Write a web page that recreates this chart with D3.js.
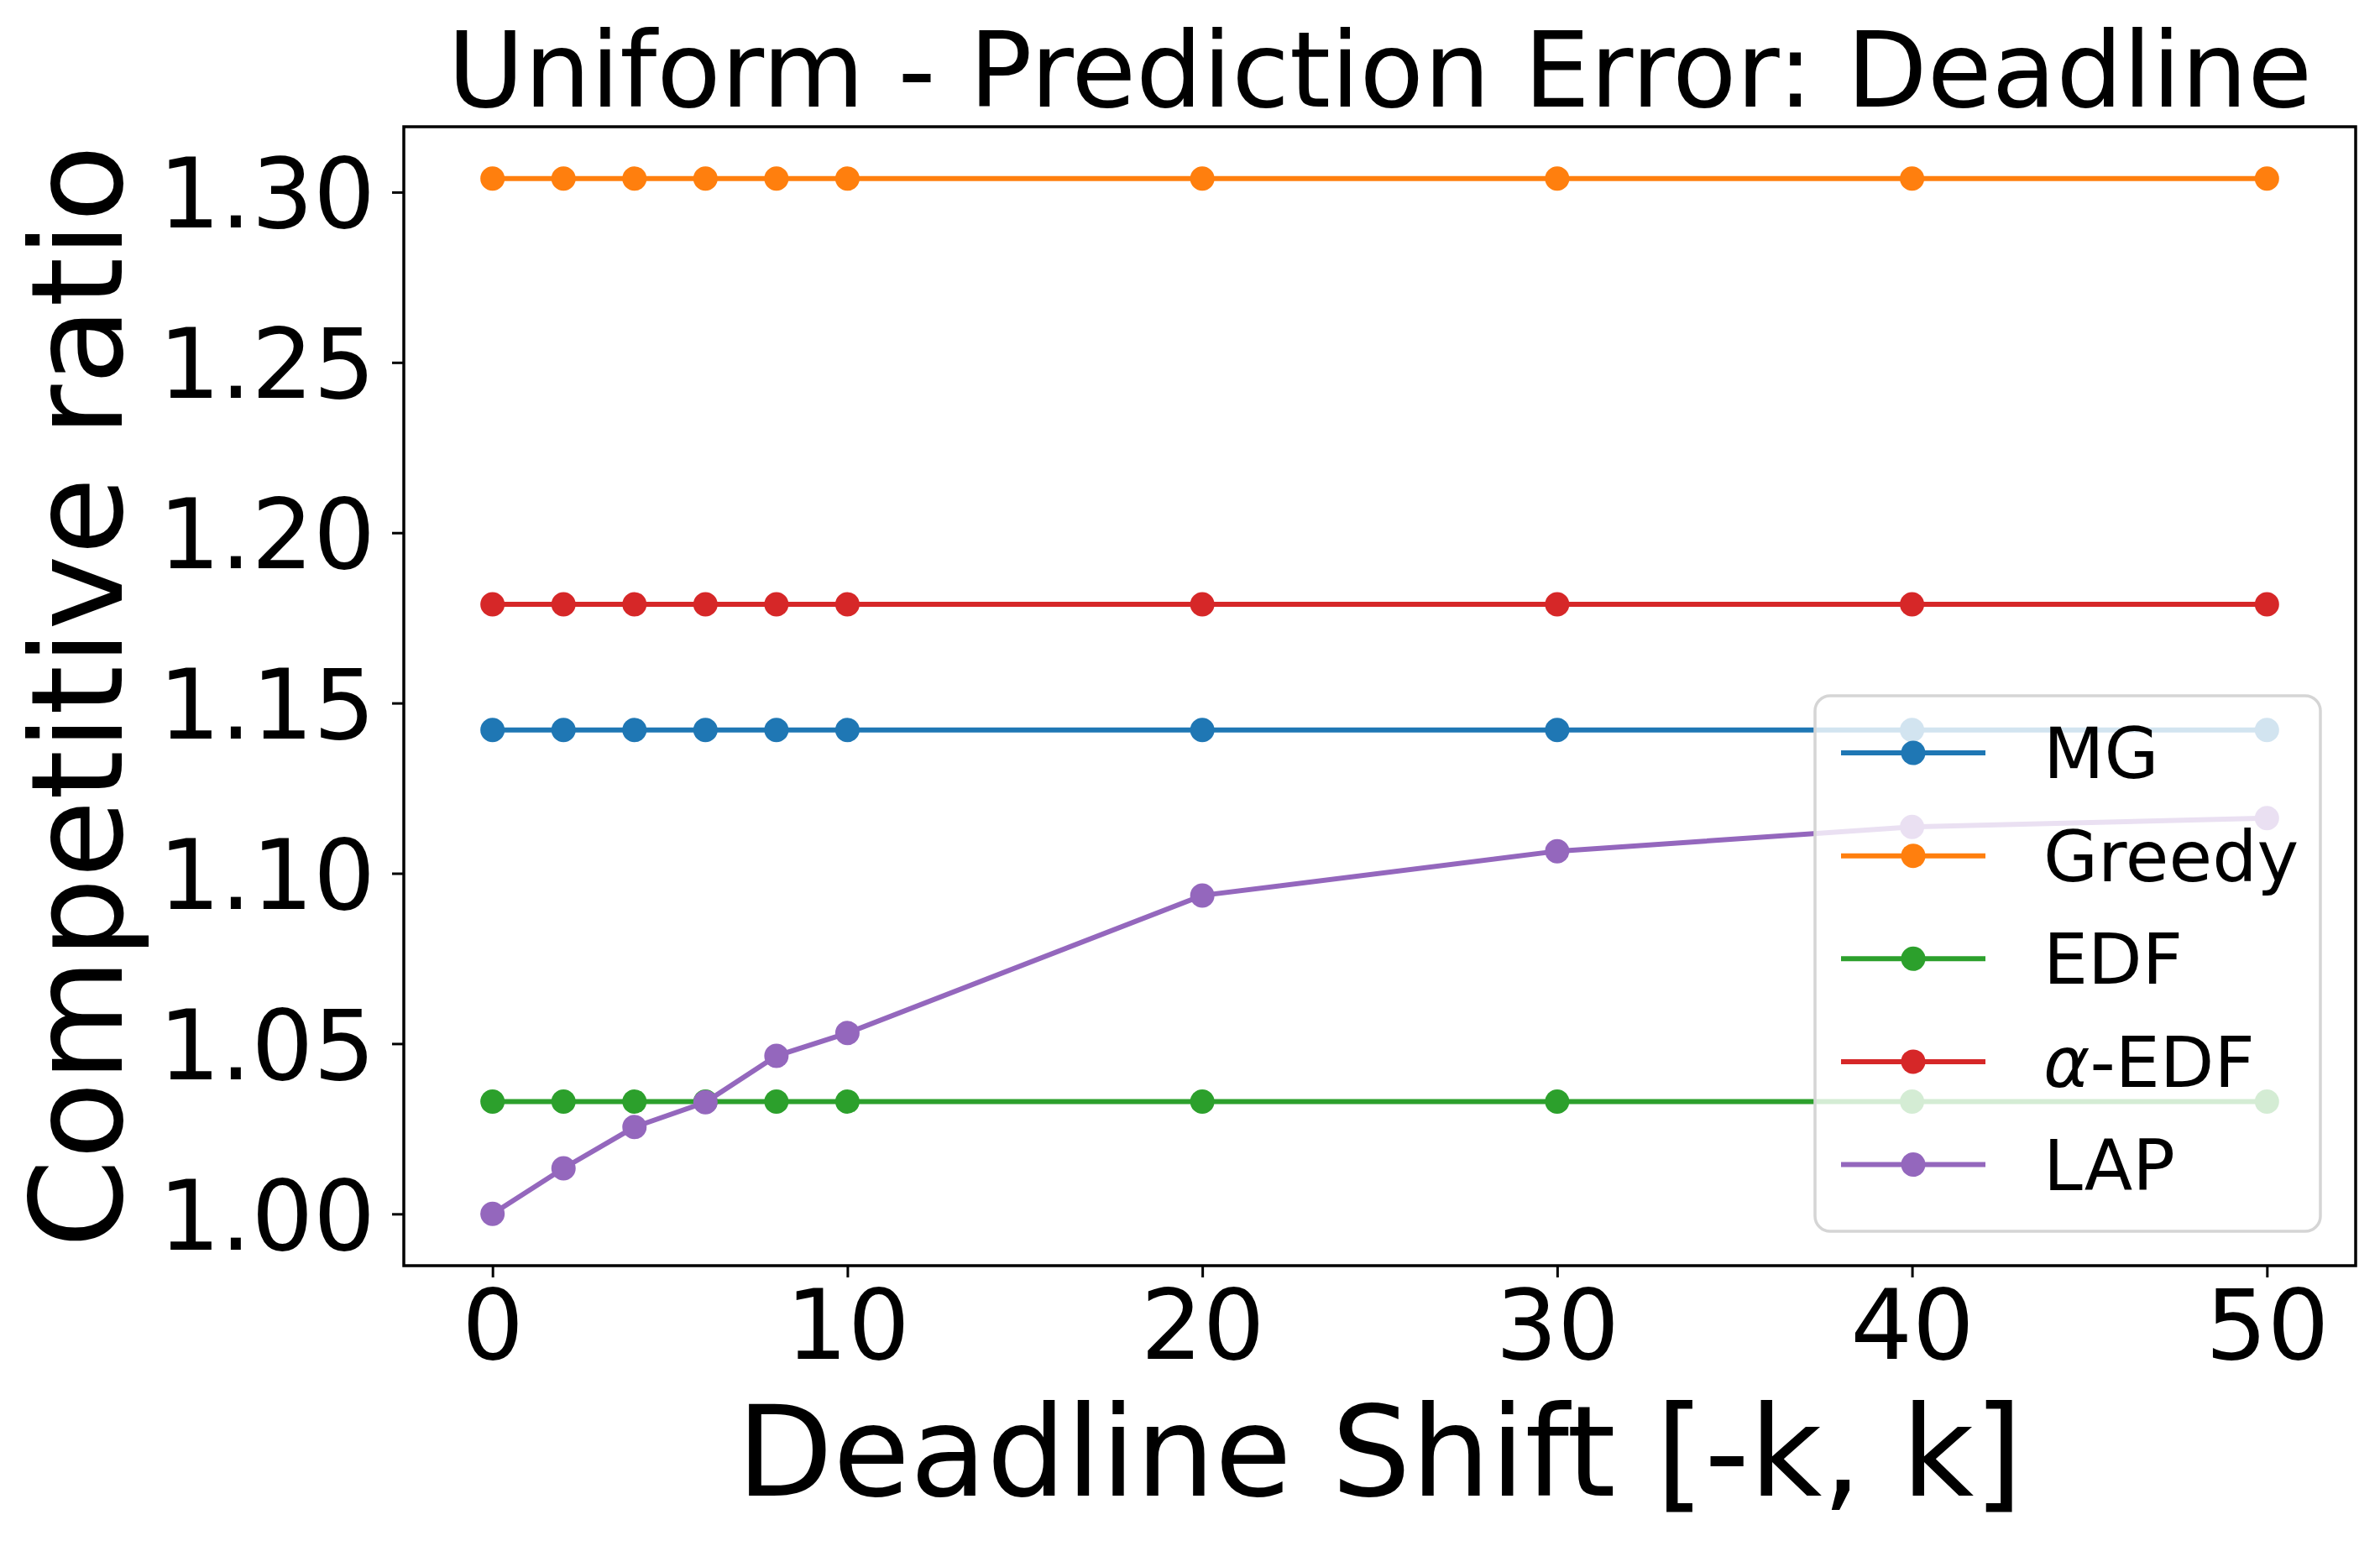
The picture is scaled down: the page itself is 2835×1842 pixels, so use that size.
<!DOCTYPE html>
<html>
<head>
<meta charset="utf-8">
<script src="https://cdn.jsdelivr.net/npm/d3@7"></script>
<style>
  body { margin: 0; background: white; }
  text { font-family: "DejaVu Sans", sans-serif; }
</style>
</head>
<body>
<div id="chart"></div>
<script>
const width = 2835;
const height = 1842;

// data
const shifts = [0, 2, 4, 6, 8, 10, 20, 30, 40, 50];
const mgValues = [1.1421, 1.1421, 1.1421, 1.1421, 1.1421, 1.1421, 1.1421, 1.1421, 1.1421, 1.1421];
const greedyValues = [1.3040, 1.3040, 1.3040, 1.3040, 1.3040, 1.3040, 1.3040, 1.3040, 1.3040, 1.3040];
const edfValues = [1.0330, 1.0330, 1.0330, 1.0330, 1.0330, 1.0330, 1.0330, 1.0330, 1.0330, 1.0330];
const alphaEdfValues = [1.1790, 1.1790, 1.1790, 1.1790, 1.1790, 1.1790, 1.1790, 1.1790, 1.1790, 1.1790];
const lapValues = [1.0000, 1.0134, 1.0255, 1.0328, 1.0464, 1.0531, 1.0935, 1.1065, 1.1136, 1.1162];
const seriesNames = ["MG", "Greedy", "EDF", "α-EDF", "LAP"];
const colors = ["#1f77b4", "#ff7f0e", "#2ca02c", "#d62728", "#9467bd"];
const xTicks = [0, 10, 20, 30, 40, 50];
const yTicks = [1.00, 1.05, 1.10, 1.15, 1.20, 1.25, 1.30];

const series = [mgValues, greedyValues, edfValues, alphaEdfValues, lapValues];

const plot = {left: 481, right: 2806, top: 151, bottom: 1508};

const svg = d3.select("#chart")
  .append("svg")
  .attr("width", width)
  .attr("height", height);

svg.append("rect").attr("width", width).attr("height", height).attr("fill", "white");

const x = d3.scaleLinear().domain([-2.5, 52.5]).range([plot.left, plot.right]);

// matplotlib style 5% margin on y
const allVals = series.flat();
const yMin = d3.min(allVals), yMax = d3.max(allVals);
const pad = (yMax - yMin) * 0.05;
const y = d3.scaleLinear().domain([yMin - pad, yMax + pad]).range([plot.bottom, plot.top]);

// axes
const xAxis = svg.append("g")
  .attr("transform", `translate(0, ${plot.bottom})`)
  .call(d3.axisBottom(x).tickValues(xTicks).tickSize(14).tickPadding(18).tickFormat(d3.format("d")));
const yAxis = svg.append("g")
  .attr("transform", `translate(${plot.left}, 0)`)
  .call(d3.axisLeft(y).tickValues(yTicks).tickSize(14).tickPadding(20).tickFormat(d3.format(".2f")));

[xAxis, yAxis].forEach(a => {
  a.select(".domain").remove();
  a.selectAll(".tick line").attr("stroke", "black").attr("stroke-width", 3);
  a.selectAll(".tick text").attr("fill", "black").style("font-size", "116px")
    .style("font-family", "DejaVu Sans");
});
xAxis.selectAll(".tick text").attr("dy", "0.68em");
yAxis.selectAll(".tick text").attr("dy", "0.36em");

// lines + markers
const line = d3.line().x((d, i) => x(shifts[i])).y(d => y(d));

series.forEach((vals, s) => {
  const g = svg.append("g");
  g.append("path")
    .datum(vals)
    .attr("d", line)
    .attr("fill", "none")
    .attr("stroke", colors[s])
    .attr("stroke-width", 6);
  g.selectAll("circle")
    .data(vals)
    .enter()
    .append("circle")
    .attr("cx", (d, i) => x(shifts[i]))
    .attr("cy", d => y(d))
    .attr("r", 14.5)
    .attr("fill", colors[s]);
});

// frame
svg.append("rect")
  .attr("x", plot.left).attr("y", plot.top)
  .attr("width", plot.right - plot.left).attr("height", plot.bottom - plot.top)
  .attr("fill", "none").attr("stroke", "black").attr("stroke-width", 3.5);

// legend
const legend = svg.append("g");
legend.append("rect")
  .attr("x", 2162).attr("y", 829).attr("width", 602).attr("height", 638)
  .attr("rx", 18)
  .attr("fill", "white").attr("fill-opacity", 0.8)
  .attr("stroke", "#d5d5d5").attr("stroke-width", 3.5);

const rowY = d3.scaleLinear().domain([0, 4]).range([897, 1387.5]);
seriesNames.forEach((name, i) => {
  const ry = rowY(i);
  legend.append("line")
    .attr("x1", 2193).attr("x2", 2365).attr("y1", ry).attr("y2", ry)
    .attr("stroke", colors[i]).attr("stroke-width", 6);
  legend.append("circle")
    .attr("cx", 2279).attr("cy", ry).attr("r", 14.5).attr("fill", colors[i]);
  const t = legend.append("text")
    .attr("x", 2434).attr("y", ry + 30)
    .style("font-size", "84px").attr("fill", "black");
  if (name.startsWith("α")) {
    t.append("tspan").style("font-style", "italic").text("α");
    t.append("tspan").text(name.slice(1));
  } else {
    t.text(name);
  }
});

// titles
const cx = (plot.left + plot.right) / 2;
svg.append("text")
  .attr("x", cx).attr("y", 127)
  .attr("text-anchor", "middle")
  .style("font-size", "125px")
  .text("Uniform - Prediction Error: Deadline");

svg.append("text")
  .attr("x", cx).attr("y", 1782)
  .attr("text-anchor", "middle")
  .style("font-size", "149px")
  .text("Deadline Shift [-k, k]");

svg.append("text")
  .attr("transform", `translate(145, ${(plot.top + plot.bottom) / 2}) rotate(-90)`)
  .attr("text-anchor", "middle")
  .style("font-size", "151px")
  .text("Competitive ratio");
</script>
</body>
</html>
